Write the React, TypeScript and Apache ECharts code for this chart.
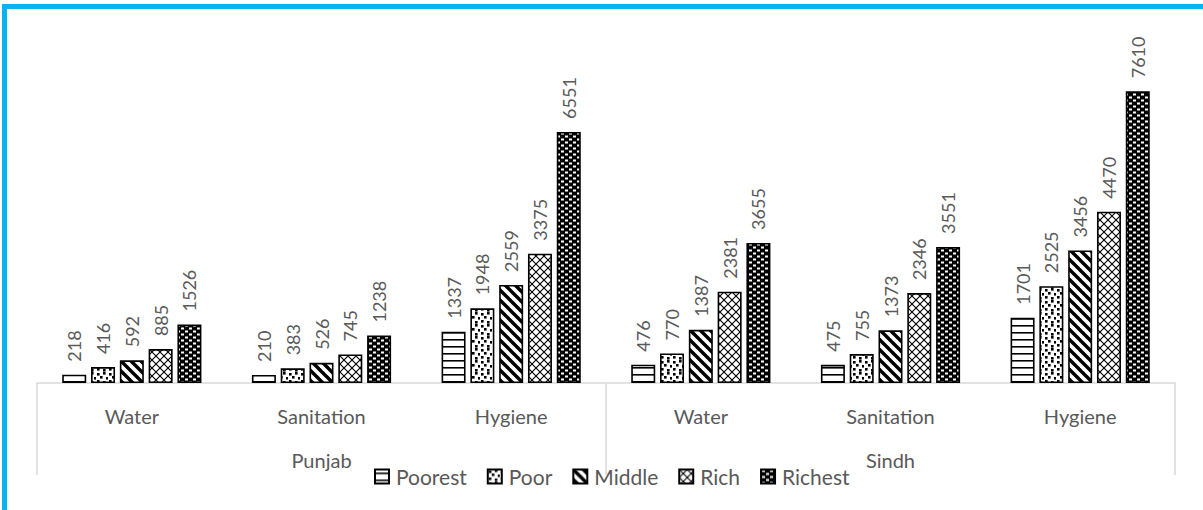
import React, { useEffect, useRef } from 'react';
import * as echarts from 'echarts';

const categories = ['Water', 'Sanitation', 'Hygiene', 'Water', 'Sanitation', 'Hygiene'];
const regions = ['Punjab', 'Sindh'];
const seriesNames = ['Poorest', 'Poor', 'Middle', 'Rich', 'Richest'];
const poorest = [218, 210, 1337, 476, 475, 1701];
const poor = [416, 383, 1948, 770, 755, 2525];
const middle = [592, 526, 2559, 1387, 1373, 3456];
const rich = [885, 745, 3375, 2381, 2346, 4470];
const richest = [1526, 1238, 6551, 3655, 3551, 7610];

const FONT = 'Lato, "Open Sans", sans-serif';
const TEXT = '#595959';
const AXIS = '#D9D9D9';

function tile(w: number, h: number, draw: (c: CanvasRenderingContext2D) => void) {
  const cv = document.createElement('canvas');
  cv.width = w;
  cv.height = h;
  const ctx = cv.getContext('2d')!;
  draw(ctx);
  return { image: cv.toDataURL(), repeat: 'repeat', imageWidth: w, imageHeight: h } as any;
}

function makePatterns() {
  const pPoorest = tile(6, 7, (c) => {
    c.fillStyle = '#fff';
    c.fillRect(0, 0, 6, 7);
    c.fillStyle = '#000';
    c.fillRect(0, 3, 6, 1.6);
  });
  const pPoor = tile(12, 12, (c) => {
    c.fillStyle = '#fff';
    c.fillRect(0, 0, 12, 12);
    c.fillStyle = '#000';
    const sq = [[1, 1], [7, 0], [4, 4], [10, 5], [1, 8], [7, 9]];
    sq.forEach(([x, y]) => c.fillRect(x, y, 2.6, 2.6));
  });
  const pMiddle = tile(10, 10, (c) => {
    c.fillStyle = '#fff';
    c.fillRect(0, 0, 10, 10);
    c.strokeStyle = '#000';
    c.lineWidth = 3.4;
    [-10, 0, 10].forEach((o) => {
      c.beginPath();
      c.moveTo(o - 2, -2);
      c.lineTo(o + 12, 12);
      c.stroke();
    });
  });
  const pRich = tile(8, 8, (c) => {
    c.fillStyle = '#fff';
    c.fillRect(0, 0, 8, 8);
    c.strokeStyle = '#000';
    c.lineWidth = 1.1;
    c.beginPath();
    c.moveTo(-1, -1);
    c.lineTo(9, 9);
    c.moveTo(9, -1);
    c.lineTo(-1, 9);
    c.stroke();
  });
  const pRichest = tile(8, 6, (c) => {
    c.fillStyle = '#000';
    c.fillRect(0, 0, 8, 6);
    c.fillStyle = '#fff';
    c.fillRect(1, 0.5, 3, 2);
    c.fillRect(5, 3.5, 3, 2);
  });
  return [pPoorest, pPoor, pMiddle, pRich, pRichest];
}

export default function App() {
  const ref = useRef<HTMLDivElement>(null);
  useEffect(() => {
    if (!ref.current) return;
    const chart = echarts.init(ref.current, undefined, { renderer: 'svg' });
    const patterns = makePatterns();
    const values = [poorest, poor, middle, rich, richest];
    const series = seriesNames.map((name, i) => ({
      name,
      type: 'bar',
      xAxisIndex: 0,
      yAxisIndex: 0,
      data: values[i],
      barWidth: 24,
      barGap: '20%',
      itemStyle: { color: patterns[i], borderColor: '#000', borderWidth: 1.6 },
      emphasis: { disabled: true },
      label: {
        show: true,
        position: 'top',
        rotate: 90,
        align: 'left',
        verticalAlign: 'middle',
        distance: 13,
        color: TEXT,
        fontFamily: FONT,
        fontSize: 18,
      },
    }));
    chart.setOption({
      animation: false,
      backgroundColor: '#fff',
      grid: { left: 37, right: 28, top: 38, bottom: 127, containLabel: false },
      legend: {
        data: seriesNames,
        left: 374,
        top: 466,
        icon: 'rect',
        itemWidth: 14,
        itemHeight: 14,
        itemGap: 20,
        padding: 0,
        textStyle: { color: TEXT, fontSize: 21, fontFamily: FONT, padding: [0, 0, 0, 2] },
      },
      xAxis: [
        {
          type: 'category',
          data: categories,
          position: 'bottom',
          axisLine: { show: true, lineStyle: { color: AXIS, width: 1.5 } },
          axisTick: { show: false },
          axisLabel: { interval: 0, color: TEXT, fontSize: 20, fontFamily: FONT, margin: 23 },
          splitLine: { show: false },
        },
        {
          type: 'category',
          data: regions,
          position: 'bottom',
          axisLine: { show: false },
          axisTick: { show: true, length: 92, lineStyle: { color: AXIS, width: 1.5 } },
          axisLabel: { interval: 0, color: TEXT, fontSize: 20, fontFamily: FONT, margin: 67 },
          splitLine: { show: false },
        },
      ],
      yAxis: {
        type: 'value',
        min: 0,
        max: 9000,
        show: false,
        splitLine: { show: false },
      },
      graphic: [
        {
          type: 'rect',
          shape: { x: 4.5, y: 6.5, width: 1400, height: 700 },
          style: { fill: 'none', stroke: '#0AB2F0', lineWidth: 5 },
          silent: true,
        },
      ],
      series,
    });
    return () => chart.dispose();
  }, []);
  return (
    <div
      ref={ref}
      style={{ position: 'fixed', left: 0, top: 0, width: 1203, height: 510 }}
    />
  );
}
